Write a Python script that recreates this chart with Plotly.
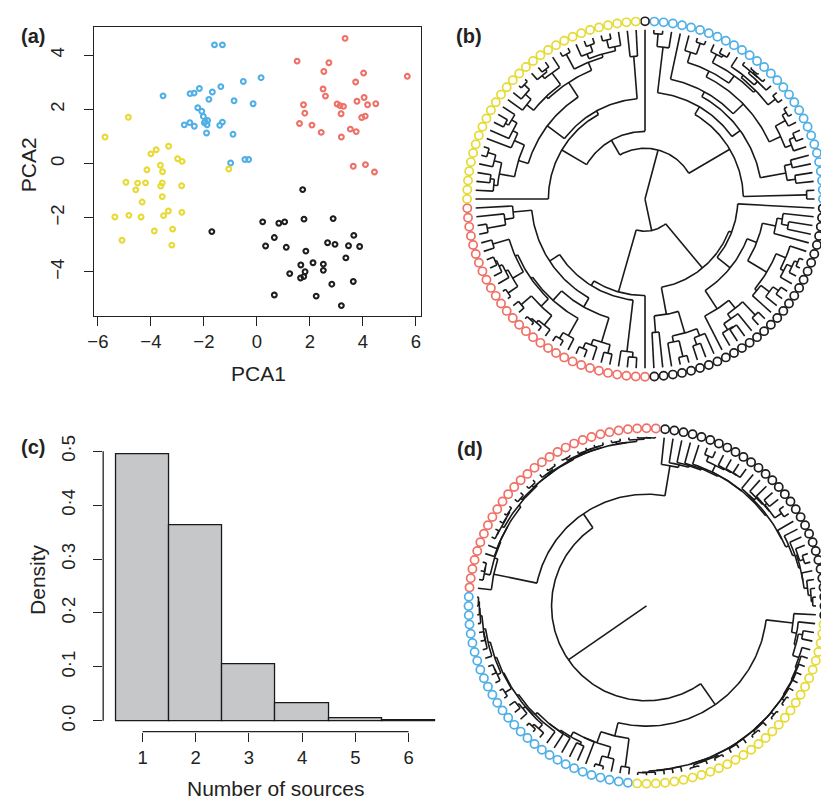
import numpy as np
import plotly.graph_objects as go

# ---------------- data: panel (a) PCA scores ----------------
YELLOW_X = [-4.85, -5.73, -3.33, -3.80, -4.00, -2.99, -2.82, -3.64, -3.56, -4.15,
            -1.06, -4.94, -4.50, -4.20, -3.57, -3.63, -4.57, -2.84, -3.57, -4.33,
            -3.34, -2.83, -3.52, -5.36, -4.83, -4.37, -3.18, -3.87, -5.09, -3.21]
YELLOW_Y = [1.71, 0.98, 0.64, 0.51, 0.36, 0.18, 0.08, -0.06, -0.30, -0.23,
            -0.20, -0.69, -0.72, -0.71, -0.71, -0.83, -0.97, -0.82, -1.22, -1.42,
            -1.75, -1.80, -1.92, -1.97, -1.91, -1.97, -2.42, -2.49, -2.83, -3.01]
BLUE_X = [-1.60, -1.30, 0.16, -0.51, -1.36, -2.17, -2.37, -2.52, -1.68, -3.54,
          -1.81, -0.86, -0.14, -2.23, -2.08, -2.02, -1.86, -1.98, -1.88, -1.30,
          -1.40, -2.53, -2.74, -2.36, -1.90, -0.90, -0.99, -0.45, -0.31, -1.95]
BLUE_Y = [4.38, 4.38, 3.17, 3.03, 2.84, 2.77, 2.60, 2.58, 2.64, 2.50,
          2.37, 2.32, 2.21, 2.06, 1.93, 1.74, 1.59, 1.50, 1.43, 1.53,
          1.41, 1.51, 1.43, 1.38, 1.13, 1.08, 0.02, 0.15, 0.15, 1.55]
RED_X = [3.33, 1.52, 2.72, 2.53, 5.68, 4.03, 3.73, 2.50, 2.59, 4.05,
         1.76, 3.03, 3.14, 3.27, 3.78, 4.18, 4.49, 1.81, 3.18, 1.61,
         2.08, 3.96, 4.09, 2.43, 3.53, 3.75, 3.19, 3.64, 4.10, 4.44]
RED_Y = [4.62, 3.78, 3.72, 3.40, 3.22, 3.34, 3.01, 2.75, 2.49, 2.44,
         2.17, 2.20, 2.14, 2.11, 2.30, 2.17, 2.21, 1.86, 1.84, 1.48,
         1.42, 1.70, 1.75, 1.15, 1.27, 1.18, 0.98, -0.10, -0.04, -0.31]
BLACK_X = [1.73, 0.22, 0.83, 1.05, 1.78, 2.88, 3.66, 0.66, 0.33, 1.11,
           2.67, 2.95, 3.46, 3.88, 1.85, 3.36, 2.12, 1.66, 2.51, 2.51,
           1.82, 1.77, 1.65, 1.24, 3.64, 2.83, 0.66, 2.24, 3.19]
BLACK_Y = [-0.96, -2.15, -2.20, -2.15, -2.05, -2.03, -2.65, -2.73, -3.04, -3.09,
           -2.92, -2.98, -3.03, -3.06, -3.23, -3.48, -3.66, -3.74, -3.71, -3.94,
           -3.99, -4.17, -4.22, -4.06, -4.35, -4.45, -4.85, -4.89, -5.24]
OUTLIER_X = [-1.70]   # black-coloured individual that sits apart
OUTLIER_Y = [-2.51]

# ---------------- data: panel (c) histogram ----------------
SOURCES = [1, 2, 3, 4, 5, 6]
DENSITY = [0.495, 0.363, 0.105, 0.032, 0.004, 0.001]
DENSITY_TICKS = [0.0, 0.1, 0.2, 0.3, 0.4, 0.5]
DENSITY_TICKTEXT = ["0·0", "0·1", "0·2", "0·3", "0·4", "0·5"]

# ---------------- data: dendrogram top-level structure ----------------
# node depth given as fraction of root-to-tip distance
TREE_B = ("node", 0.0, [
    ("node", 0.30, [("group", "blue", 0.58),
                    ("node", 0.40, [("outlier",), ("group", "yellow", 0.57)])]),
    ("node", 0.19, [("group", "red", 0.57), ("group", "black", 0.53)]),
])
TREE_D = ("node", 0.56, [
    ("node", 0.66, [("group", "black", 0.84), ("group", "red", 0.92)]),
    ("node", 0.71, [("group", "blue", 0.79),
                    ("node", 0.87, [("group", "yellow", 0.90), ("outlier",)])]),
])

COLORS = {"yellow": "#E6DA33", "blue": "#50B0E6", "red": "#EF7066", "black": "#1E1E1E"}
GROUP_PTS = {"yellow": (YELLOW_X, YELLOW_Y), "blue": (BLUE_X, BLUE_Y),
             "red": (RED_X, RED_Y), "black": (BLACK_X, BLACK_Y)}

W, H = 821, 799
FONT = "Liberation Sans, Arial, Helvetica, sans-serif"


def cluster(xs, ys, method):
    pts = np.column_stack([xs, ys]).astype(float)
    n = len(pts)
    M = np.sqrt(((pts[:, None, :] - pts[None, :, :]) ** 2).sum(-1))
    np.fill_diagonal(M, np.inf)
    sizes = [1] * n
    alive = np.ones(n, bool)
    nodes = [{"tip": i, "h": 0.0, "n": 1} for i in range(n)]
    for _ in range(n - 1):
        idx = np.where(alive)[0]
        sub = M[np.ix_(idx, idx)]
        k = int(np.argmin(sub))
        a, b = idx[k // len(idx)], idx[k % len(idx)]
        if a > b:
            a, b = b, a
        h = M[a, b]
        for c in idx:
            if c in (a, b):
                continue
            if method == "single":
                d = min(M[a, c], M[b, c])
            elif method == "complete":
                d = max(M[a, c], M[b, c])
            else:
                d = (sizes[a] * M[a, c] + sizes[b] * M[b, c]) / (sizes[a] + sizes[b])
            M[a, c] = M[c, a] = d
        nodes[a] = {"children": [nodes[a], nodes[b]], "h": h, "n": nodes[a]["n"] + nodes[b]["n"]}
        sizes[a] += sizes[b]
        alive[b] = False
        M[b, :] = np.inf
        M[:, b] = np.inf
    return nodes[int(np.where(alive)[0][0])]


def build(spec, method, ladder):
    kind = spec[0]
    if kind == "node":
        return {"depth": spec[1], "children": [build(s, method, ladder) for s in spec[2]]}
    if kind == "outlier":
        return {"depth": 1.0, "color": COLORS["black"]}
    name, dg = spec[1], spec[2]
    root = cluster(*GROUP_PTS[name], method)
    Hr = root["h"]

    def conv(nd):
        if "tip" in nd:
            return {"depth": 1.0, "color": COLORS[name]}
        ch = nd["children"]
        if ladder:
            ch = sorted(ch, key=lambda c: c["n"], reverse=True)
        return {"depth": 1 - nd["h"] / Hr * (1 - dg), "children": [conv(c) for c in ch]}
    return conv(root)


def layout(tree):
    tips = []

    def collect(nd):
        if "children" in nd:
            for c in nd["children"]:
                collect(c)
        else:
            tips.append(nd)
    collect(tree)
    n = len(tips)
    for i, t in enumerate(tips):
        t["ang"] = 2 * np.pi * i / n

    def ang(nd):
        if "children" in nd:
            nd["ang"] = float(np.mean([ang(c) for c in nd["children"]]))
        return nd["ang"]
    ang(tree)
    return tips


def segments(tree, R, root_edge):
    xs, ys = [], []

    def radial(a, r0, r1):
        xs.extend([r0 * np.cos(a), r1 * np.cos(a), None])
        ys.extend([r0 * np.sin(a), r1 * np.sin(a), None])

    def walk(nd):
        if "children" not in nd:
            return
        r = nd["depth"] * R
        angs = [c["ang"] for c in nd["children"]]
        a0, a1 = min(angs), max(angs)
        if r > 0:
            m = max(2, int(np.degrees(a1 - a0)) + 2)
            t = np.linspace(a0, a1, m)
            xs.extend(list(r * np.cos(t)) + [None])
            ys.extend(list(r * np.sin(t)) + [None])
        for c in nd["children"]:
            radial(c["ang"], r, c["depth"] * R)
            walk(c)
    if root_edge:
        radial(tree["ang"], 0, tree["depth"] * R)
    walk(tree)
    return xs, ys


fig = go.Figure()

# ---------------- panel (a) ----------------
for gx, gy, col in [(BLACK_X + OUTLIER_X, BLACK_Y + OUTLIER_Y, "black"),
                    (RED_X, RED_Y, "red"), (BLUE_X, BLUE_Y, "blue"),
                    (YELLOW_X, YELLOW_Y, "yellow")]:
    fig.add_trace(go.Scatter(x=gx, y=gy, mode="markers", xaxis="x", yaxis="y",
                             marker=dict(symbol="circle-open", size=4.8, color=COLORS[col],
                                         line=dict(width=2.1, color=COLORS[col])),
                             showlegend=False, hoverinfo="skip"))

# ---------------- panel (c) ----------------
fig.add_trace(go.Bar(x=SOURCES, y=DENSITY, width=1, xaxis="x2", yaxis="y2",
                     marker=dict(color="#C6C7C9", line=dict(color="#1a1a1a", width=1.3)),
                     showlegend=False, hoverinfo="skip"))

# ---------------- dendrograms ----------------
R_LINE = 171.0
R_RING = 179.5
for spec, method, ladder, root_edge, xa, ya in [(TREE_B, "average", False, False, "x3", "y3"),
                                                 (TREE_D, "single", True, True, "x4", "y4")]:
    tree = build(spec, method, ladder)
    tips = layout(tree)
    sx, sy = segments(tree, R_LINE, root_edge)
    fig.add_trace(go.Scatter(x=sx, y=sy, mode="lines", xaxis=xa, yaxis=ya,
                             line=dict(color="#1a1a1a", width=1.6),
                             showlegend=False, hoverinfo="skip"))
    fig.add_trace(go.Scatter(x=[R_RING * np.cos(t["ang"]) for t in tips],
                             y=[R_RING * np.sin(t["ang"]) for t in tips],
                             mode="markers", xaxis=xa, yaxis=ya,
                             marker=dict(symbol="circle-open", size=8.2,
                                         color=[t["color"] for t in tips],
                                         line=dict(width=1.7)),
                             showlegend=False, hoverinfo="skip"))


def px_x(p):
    return p / W


def px_y(p):
    return 1 - p / H


tickfont = dict(family=FONT, size=18.5, color="#222")
common = dict(showgrid=False, zeroline=False, ticks="outside", ticklen=9, tickwidth=1.2,
              tickcolor="#222", tickfont=tickfont)

fig.update_layout(
    width=W, height=H, margin=dict(l=0, r=0, t=0, b=0),
    paper_bgcolor="white", plot_bgcolor="white",
    xaxis=dict(domain=[px_x(88), px_x(418)], range=[-6.138, 6.213], tickvals=[-6, -4, -2, 0, 2, 4, 6],
               showline=True, mirror=True, linecolor="#222", linewidth=1.3,
               ticklabelstandoff=0, anchor="y", **common),
    yaxis=dict(domain=[px_y(311), px_y(19)], range=[-5.62, 5.047], tickvals=[-4, -2, 0, 2, 4],
               showline=True, mirror=True, linecolor="#222", linewidth=1.3, tickangle=-90,
               ticklabelstandoff=13, anchor="x", **common),
    xaxis2=dict(domain=[px_x(97), px_x(444.7)], range=[0.26, 6.74], tickvals=SOURCES,
                showline=False, anchor="y2", ticklabelstandoff=0, **common),
    yaxis2=dict(domain=[px_y(731), px_y(439.6)], range=[-0.0202, 0.5148], tickvals=DENSITY_TICKS,
                ticktext=DENSITY_TICKTEXT, tickangle=-90, showline=False, anchor="x2",
                ticklabelstandoff=11, **common),
    xaxis3=dict(domain=[px_x(440), 1], range=[440 - 643.5, 821 - 643.5], visible=False, anchor="y3"),
    yaxis3=dict(domain=[px_y(400), 1], range=[193 - 400, 193], visible=False, anchor="x3"),
    xaxis4=dict(domain=[px_x(440), 1], range=[440 - 645, 821 - 645], visible=False, anchor="y4"),
    yaxis4=dict(domain=[0, px_y(400)], range=[604 - 799, 604 - 400], visible=False, anchor="x4"),
    bargap=0,
)

# R-style axis lines for the histogram (span first to last tick only)
fig.add_shape(type="line", xref="x2", yref="y2 domain", x0=SOURCES[0], x1=SOURCES[-1], y0=0, y1=0,
              line=dict(color="#222", width=1.3))
fig.add_shape(type="line", xref="x2 domain", yref="y2", x0=0, x1=0, y0=DENSITY_TICKS[0],
              y1=DENSITY_TICKS[-1], line=dict(color="#222", width=1.3))

titlefont = dict(family=FONT, size=21, color="#222")
labfont = dict(family=FONT, size=20, color="#222")
for txt, x, y, ang, f in [("PCA1", 254, 369, 0, titlefont), ("PCA2", 22, 158, -90, titlefont),
                          ("Density", 30, 577, -90, titlefont), ("Number of sources", 271, 788, 0, titlefont),
                          ("<b>(a)</b>", 26, 28, 0, labfont), ("<b>(b)</b>", 466, 28, 0, labfont),
                          ("<b>(c)</b>", 26, 443, 0, labfont), ("<b>(d)</b>", 467, 445, 0, labfont)]:
    fig.add_annotation(text=txt, x=px_x(x), y=px_y(y), xref="paper", yref="paper",
                       showarrow=False, textangle=ang, font=f, xanchor="center", yanchor="middle")

fig.write_html("out.html")
